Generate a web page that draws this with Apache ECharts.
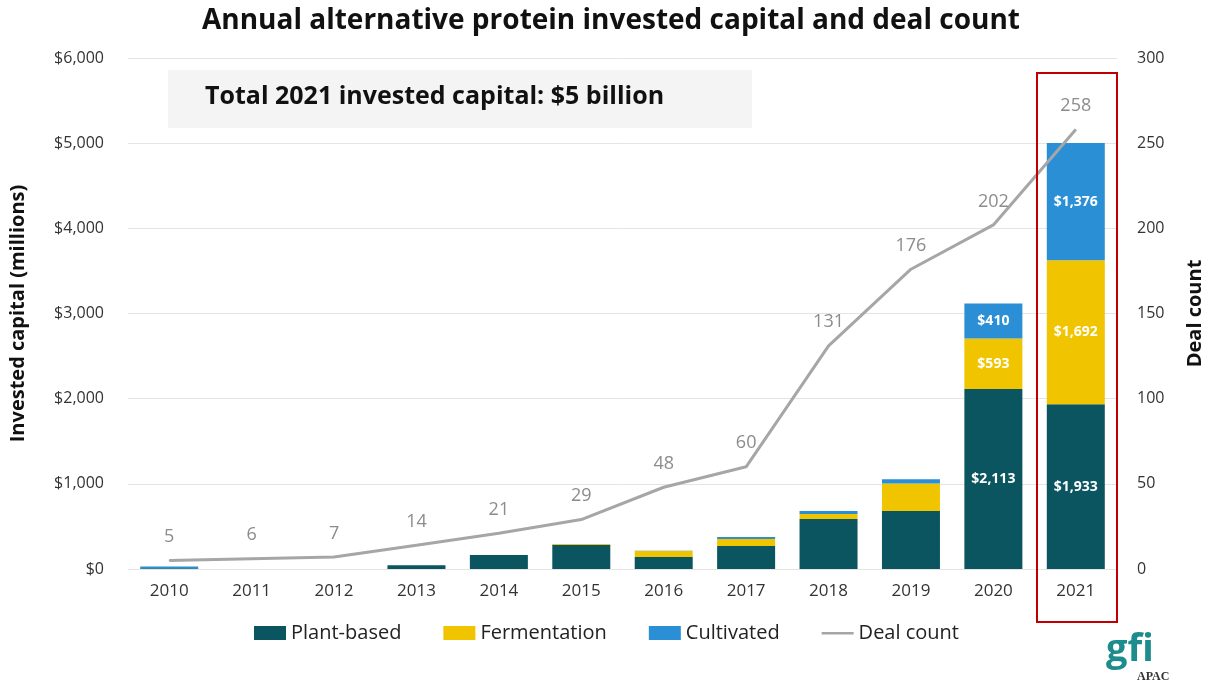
<!DOCTYPE html>
<html><head><meta charset="utf-8">
<script src="https://cdn.jsdelivr.net/npm/echarts@6/dist/echarts.min.js"></script>
<style>html,body{margin:0;padding:0;background:#fff}#c{width:1213px;height:692px}</style>
</head><body><div id="c"></div>
<script>
const years = ['2010','2011','2012','2013','2014','2015','2016','2017','2018','2019','2020','2021'];
const plantBased = [10, 0, 0, 45, 165, 285, 140, 270, 587, 680, 2113, 1933];
const fermentation = [0, 0, 0, 0, 0, 10, 70, 82, 59, 325, 593, 1692];
const cultivated = [18, 0, 0, 0, 0, 0, 5, 23, 35, 50, 410, 1376];
const dealCount = [5, 6, 7, 14, 21, 29, 48, 60, 131, 176, 202, 258];
const leftTicks = ['$0','$1,000','$2,000','$3,000','$4,000','$5,000','$6,000'];
const labeledYears = ['2020','2021'];

const FONT = '"Open Sans", "Noto Sans", sans-serif';
const chart = echarts.init(document.getElementById('c'));
function barData(arr){
  return arr.map((v,i)=>({value:v, label:{show: labeledYears.includes(years[i])}}));
}
const fmt = p => '$' + p.value.toLocaleString('en-US');
const barLabel = {show:false, position:'inside', color:'#fff', fontWeight:'bold', fontSize:14, fontFamily:FONT, formatter:fmt};
chart.setOption({
  animation:false,
  textStyle:{fontFamily:FONT},
  title:{text:'Annual alternative protein invested capital and deal count', left:606, textAlign:'center', top:2,
    textStyle:{fontSize:28, fontWeight:'bold', color:'#111', fontFamily:FONT}},
  grid:{left:128, right:93, top:58, bottom:123},
  legend:{bottom:44, left:'center', itemGap:42, itemWidth:32, itemHeight:14,
    textStyle:{fontSize:20, color:'#222', fontFamily:FONT},
    data:[{name:'Plant-based', icon:'rect'},{name:'Fermentation', icon:'rect'},{name:'Cultivated', icon:'rect'},
      {name:'Deal count', icon:'path://M0,0 L0,0 M0,6 L32,6 L32,8.5 L0,8.5 Z M32,14 L32,14'}]},
  xAxis:{type:'category', data:years, axisTick:{show:false}, axisLine:{show:false},
    axisLabel:{fontSize:17, color:'#333', margin:14}},
  yAxis:[
    {type:'value', min:0, max:6000, interval:1000, name:'Invested capital (millions)', nameLocation:'middle', nameGap:100,
     nameTextStyle:{fontSize:20, fontWeight:'bold', color:'#111'},
     axisLabel:{fontSize:16, color:'#333', margin:24, formatter:v=>leftTicks[v/1000]},
     splitLine:{lineStyle:{color:'#e4e4e4'}}},
    {type:'value', min:0, max:300, interval:50, name:'Deal count', nameLocation:'middle', nameGap:68, nameRotate:90,
     nameTextStyle:{fontSize:20, fontWeight:'bold', color:'#111'},
     axisLabel:{fontSize:16, color:'#333', margin:20}, splitLine:{show:false}}
  ],
  series:[
    {name:'Plant-based', type:'bar', stack:'cap', barWidth:58, itemStyle:{color:'#0b5560'}, label:barLabel, data:barData(plantBased)},
    {name:'Fermentation', type:'bar', stack:'cap', barWidth:58, itemStyle:{color:'#f1c400'}, label:barLabel, data:barData(fermentation)},
    {name:'Cultivated', type:'bar', stack:'cap', barWidth:58, itemStyle:{color:'#2b8fd6'}, label:barLabel, data:barData(cultivated)},
    {name:'Deal count', type:'line', yAxisIndex:1, data:dealCount, symbol:'circle', symbolSize:1, showSymbol:true,
     lineStyle:{color:'#a6a6a6', width:3}, itemStyle:{color:'#a6a6a6'},
     label:{show:true, position:'top', distance:14, color:'#8c8c8c', fontSize:18}}
  ],
  graphic:[
    {type:'rect', shape:{x:168, y:70, width:584, height:58}, style:{fill:'#f4f4f4'}, z:-1},
    {type:'text', left:205, top:84, style:{text:'Total 2021 invested capital: $5 billion', font:'bold 25px '+FONT, fill:'#111'}},
    {type:'rect', shape:{x:1037, y:73, width:80, height:549}, style:{fill:'none', stroke:'#c00000', lineWidth:2}, z:10},
    {type:'text', left:1106, top:631, style:{text:'gfi', font:'bold 38px '+FONT, fill:'#1c8c8c'}},
    {type:'text', left:1137, top:671, style:{text:'APAC', font:'bold 12px "Liberation Serif", serif', fill:'#333'}}
  ]
});
</script></body></html>
